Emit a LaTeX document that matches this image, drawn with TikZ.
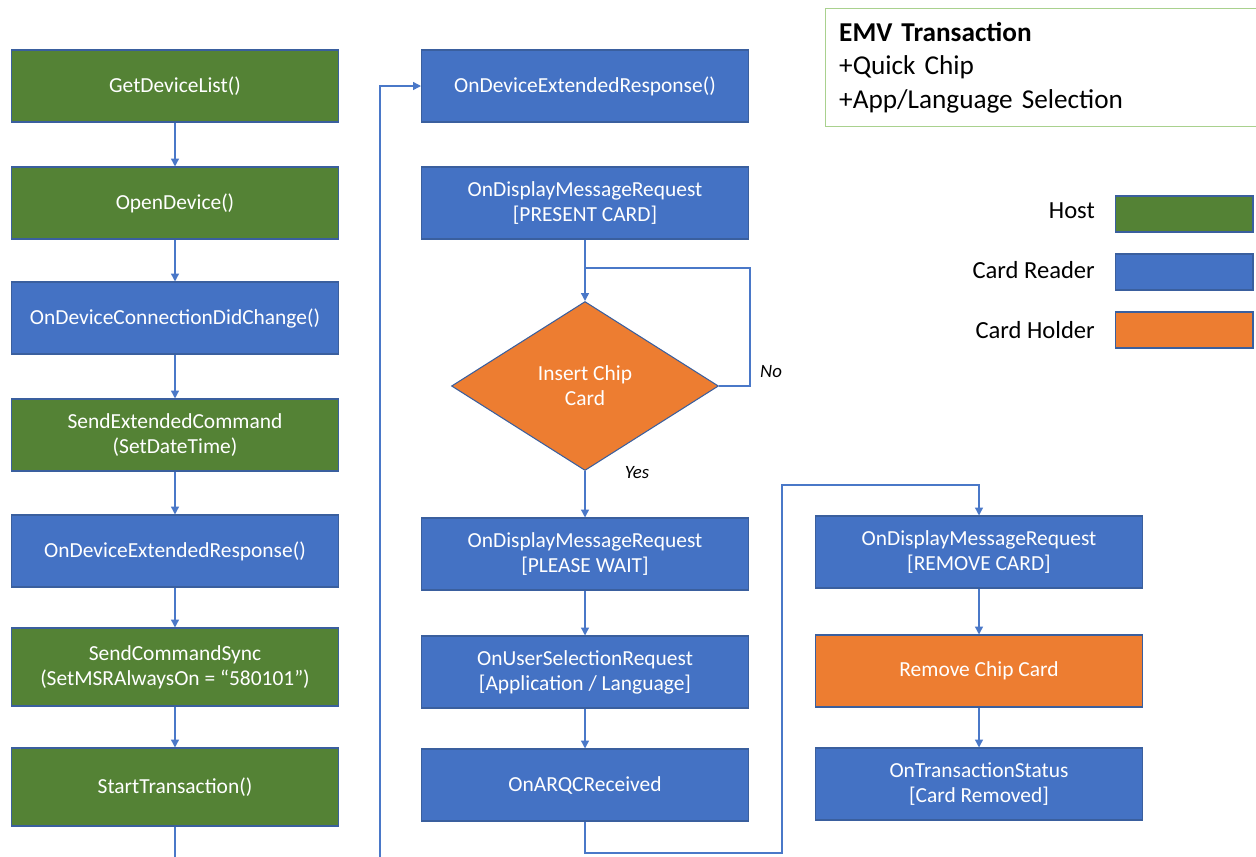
\documentclass[tikz,border=0pt]{standalone}
\usepackage{fontspec}
\setmainfont{Carlito}
\usepackage{tikz}
\usetikzlibrary{arrows.meta,positioning,shapes.geometric}
\definecolor{host green}{HTML}{548235}
\definecolor{reader blue}{HTML}{4472C4}
\definecolor{holder orange}{HTML}{ED7D31}
\definecolor{step edge}{HTML}{3A5F9E}
\definecolor{link blue}{HTML}{4A78C8}
\definecolor{title green}{HTML}{A9D18E}
\tikzset{% 
  flow step/.style={%
    draw=step edge,
    line width=0.6pt,
    text=white,
    align=center,
    inner sep=2pt,
    minimum width=6.54cm,
    minimum height=1.44cm,
    font=\fontsize{12.2}{14.2}\selectfont
  }
}
\tikzset{% 
  host step/.style={%
    flow step,
    fill=host green
  }
}
\tikzset{% 
  reader step/.style={%
    flow step,
    fill=reader blue
  }
}
\tikzset{% 
  holder step/.style={%
    flow step,
    fill=holder orange
  }
}
\tikzset{% 
  flow arrow/.style={%
    draw=link blue,
    line width=0.8pt,
    -{Triangle[length=4.5pt,width=4.5pt]}
  }
}
\tikzset{% 
  flow line/.style={%
    draw=link blue,
    line width=0.8pt
  }
}
\tikzset{% 
  branch label/.style={%
    font=\fontsize{10.7}{12}\selectfont\itshape
  }
}
\tikzset{% 
  key label/.style={%
    anchor=east,
    font=\fontsize{14}{16}\selectfont
  }
}

\begin{document}
\begin{tikzpicture}[x=0.02cm,y=-0.02cm]
  \useasboundingbox (0,0) rectangle (1256,856);
  \clip (0,0) rectangle (1256,856);
  \node [host step] (device list) at (175,86) {GetDeviceList()};
  \node [host step] (open device) at (175,203) {OpenDevice()};
  \node [reader step] (connection) at (175,318) {OnDeviceConnectionDidChange()};
  \node [host step] (date time) at (175,435) {SendExtendedCommand\\(SetDateTime)};
  \node [reader step] (ext response) at (175,551) {OnDeviceExtendedResponse()};
  \node [host step, minimum height=1.56cm] (msr on) at (175,667) {SendCommandSync\\(SetMSRAlwaysOn = “580101”)};
  \node [host step, minimum height=1.56cm] (start) at (175,787) {StartTransaction()};
  \node [reader step] (ext response2) at (585,86) {OnDeviceExtendedResponse()};
  \node [reader step] (present card) at (585,203) {OnDisplayMessageRequest\\{[}PRESENT CARD{]}};
  \node [holder step, diamond, aspect=1.58, minimum width=5.34cm, minimum height=3.38cm, inner sep=0pt] (insert chip) at (585,386) {Insert Chip\\Card};
  \node [reader step] (please wait) at (585,554) {OnDisplayMessageRequest\\{[}PLEASE WAIT{]}};
  \node [reader step] (user select) at (585,672) {OnUserSelectionRequest\\{[}Application / Language{]}};
  \node [reader step] (arqc) at (585,785) {OnARQCReceived};
  \node [reader step] (remove card) at (979,552) {OnDisplayMessageRequest\\{[}REMOVE CARD{]}};
  \node [holder step] (remove chip) at (979,671) {Remove Chip Card};
  \node [reader step] (status) at (979,784) {OnTransactionStatus\\{[}Card Removed{]}};
  \node [branch label] (no) at (771,372) {No};
  \node [branch label] (yes) at (637,473) {Yes};
  \node [draw=title green, line width=0.8pt, anchor=north west, minimum width=8.74cm, minimum height=2.36cm, text width=8.2cm, inner xsep=0.26cm, align=left, font=\fontsize{15.5}{19.3}\selectfont] (title) at (825,8) {\textbf{EMV Transaction}\\+Quick Chip\\+App/Language Selection};
  \node [host step, minimum width=2.76cm, minimum height=0.72cm] (host key) at (1184,214) {};
  \node [reader step, minimum width=2.76cm, minimum height=0.72cm] (reader key) at (1184,272) {};
  \node [holder step, minimum width=2.76cm, minimum height=0.72cm] (holder key) at (1184,330) {};
  \node [key label] (host label) at (1101,211) {Host};
  \node [key label] (reader label) at (1101,270) {Card Reader};
  \node [key label] (holder label) at (1101,330) {Card Holder};
  \coordinate (wrap low) at (380,900);
  \coordinate (no turn) at (750,268);
  \coordinate (arqc low) at (782,853);
  \coordinate (arqc high) at (782,485);
  \draw [flow arrow] (device list) -- (open device);
  \draw [flow arrow] (open device) -- (connection);
  \draw [flow arrow] (connection) -- (date time);
  \draw [flow arrow] (date time) -- (ext response);
  \draw [flow arrow] (ext response) -- (msr on);
  \draw [flow arrow] (msr on) -- (start);
  \draw [flow arrow] (start.south) |- (wrap low) |- (ext response2.west);
  \draw [flow arrow] (present card) -- (insert chip);
  \draw [flow line] (insert chip.east) -| (no turn) -- (present card.south |- no turn);
  \draw [flow arrow] (insert chip) -- (please wait);
  \draw [flow arrow] (please wait) -- (user select);
  \draw [flow arrow] (user select) -- (arqc);
  \draw [flow arrow] (arqc.south) |- (arqc low) -- (arqc high) -| (remove card.north);
  \draw [flow arrow] (remove card) -- (remove chip);
  \draw [flow arrow] (remove chip) -- (status);
\end{tikzpicture}
\end{document}
